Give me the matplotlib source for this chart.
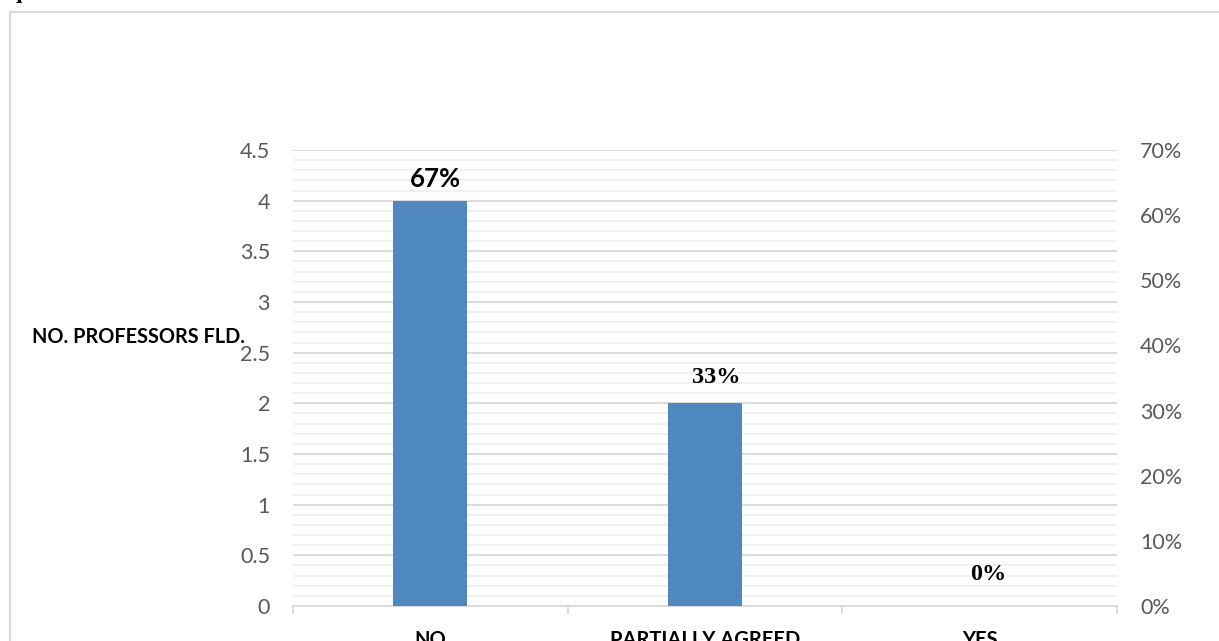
import matplotlib
matplotlib.use("Agg")
import matplotlib.pyplot as plt
from matplotlib.patches import Rectangle
from matplotlib.ticker import MultipleLocator, FuncFormatter

categories = ["NO", "PARTIALLY AGREED", "YES"]
counts = [4, 2, 0]
percent_labels = ["67%", "33%", "0%"]
left_ticks = [0, 0.5, 1, 1.5, 2, 2.5, 3, 3.5, 4, 4.5]
right_ticks = [0, 0.1, 0.2, 0.3, 0.4, 0.5, 0.6, 0.7]

W, H = 1219, 641
fig = plt.figure(figsize=(W / 100, H / 100), dpi=100)

# outer chart border
fig.patches.append(Rectangle((10 / W, -0.1), 1.2, 1 - 12 / H + 0.1, transform=fig.transFigure,
                             fill=False, edgecolor="#D9D9D9", linewidth=1.5))
# cut-off heading text at top
fig.text(0.0, 1 + 2 / H, "equirements:", family="Liberation Serif", fontweight="bold",
         fontsize=16, va="baseline", ha="left")

ax = fig.add_axes([293 / W, 1 - 606 / H, (1117 - 293) / W, (606 - 150) / H])
x = list(range(len(categories)))
bars = ax.bar(x, counts, width=0.27, color="#4F88BE", zorder=3)

ax.set_xlim(-0.5, 2.5)
ax.set_ylim(0, 4.5)
ax.set_yticks(left_ticks)
ax.set_yticklabels([f"{t:g}" for t in left_ticks])
ax.yaxis.set_minor_locator(MultipleLocator(0.1))
ax.grid(axis="y", which="major", color="#D9D9D9", linewidth=1.3, zorder=0)
ax.grid(axis="y", which="minor", color="#F0F0F0", linewidth=1.3, zorder=0)
ax.tick_params(axis="y", which="both", length=0, labelsize=15.5, labelcolor="#595959", pad=16.5)

ax.set_xticks(x)
ax.set_xticklabels(categories, fontweight="bold", fontsize=14.5)
ax.set_xticks([-0.5, 0.5, 1.5, 2.5], minor=True)
ax.tick_params(axis="x", which="major", length=0, pad=17)
ax.tick_params(axis="x", which="minor", length=6, color="#D9D9D9", width=1.3)

for s in ["top", "left", "right"]:
    ax.spines[s].set_visible(False)
ax.spines["bottom"].set_color("#D9D9D9")
ax.spines["bottom"].set_linewidth(1.3)

for lbl in ax.get_yticklabels() + ax.get_xticklabels():
    lbl.set_family("Lato")

# data labels
offsets = [(5, 22), (11, 26), (9, 31)]
styles = [dict(family="Lato", fontsize=18.5), dict(family="Liberation Serif", fontsize=17.5),
          dict(family="Liberation Serif", fontsize=17.5)]
for xi, c, lab, off, st in zip(x, counts, percent_labels, offsets, styles):
    ax.annotate(lab, (xi, c), xytext=off, textcoords="offset pixels", ha="center", va="center",
                fontweight="bold", color="black", **st)

ax2 = ax.twinx()
ax2.set_ylim(0, 0.7)
ax2.set_yticks(right_ticks)
ax2.yaxis.set_major_formatter(FuncFormatter(lambda v, p: f"{v*100:.0f}%"))
ax2.tick_params(axis="y", length=0, labelsize=15.5, labelcolor="#595959", pad=16.5)
for s in ax2.spines.values():
    s.set_visible(False)
for lbl in ax2.get_yticklabels():
    lbl.set_family("Lato")

fig.text(245 / W, 1 - 337 / H, "NO. PROFESSORS FLD.", family="Lato", fontweight="bold",
         fontsize=14.3, ha="right", va="center")

fig.savefig("out.png", dpi=100)
